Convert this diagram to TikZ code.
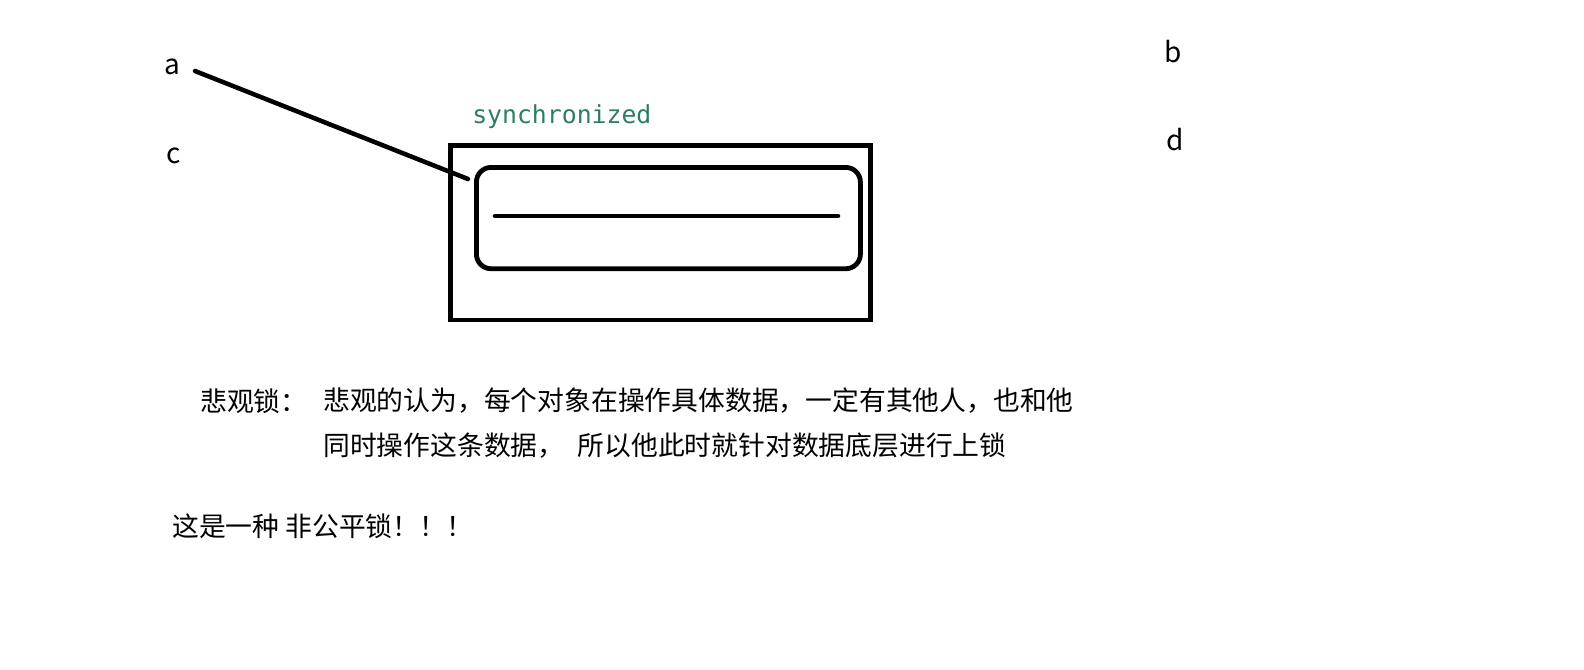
\documentclass[tikz,border=0pt]{standalone}
\usepackage{fontspec}
\setmainfont{Noto Sans CJK SC}
\newfontfamily\monof{DejaVu Sans Mono}
\definecolor{syncgreen}{RGB}{46,125,98}
\tikzset{
  lbl/.style={inner sep=0pt, font=\fontsize{21pt}{24pt}\selectfont},
  cjk/.style={inner sep=0pt, anchor=west, font=\fontsize{20.1pt}{24pt}\selectfont},
  thick line/.style={line width=3.4pt, line cap=round},
  box line/.style={line width=3.6pt},
}
\begin{document}
\begin{tikzpicture}[x=0.75pt,y=-0.75pt]
\useasboundingbox (0,0) rectangle (1584,669);
% letters
\node[lbl] (a) at (172,67) {a};
\node[lbl] (c) at (174,156) {c};
\node[lbl] (b) at (1173,52) {b};
\node[lbl] (d) at (1175,140) {d};
% boxes
\node[box line, draw, inner sep=0pt, anchor=north west,
      minimum width=315pt, minimum height=131pt] (outer) at (448,143) {};
\node[box line, draw, rounded corners=11pt, inner sep=0pt, anchor=north west,
      minimum width=288pt, minimum height=76pt] (inner) at (474,165) {};
\coordinate (l1) at (495,216);
\coordinate (l2) at (838,216);
\draw[thick line] (l1) -- (l2);
\coordinate (aend) at (195,71);
\coordinate (iend) at (468,179);
\draw[thick line] (aend) -- (iend);
\node[inner sep=0pt, anchor=west, text=syncgreen, font=\monof\fontsize{18.6pt}{20pt}\selectfont] (sync) at (472,117) {synchronized};
% text
\node[cjk] (t0) at (200,401) {悲观锁：};
\node[cjk] (t1) at (323,401) {悲观的认为，每个对象在操作具体数据，一定有其他人，也和他};
\node[cjk] (t2) at (323,446) {同时操作这条数据，\hspace{10pt}所以他此时就针对数据底层进行上锁};
\node[cjk] (t3) at (172,526) {这是一种 非公平锁！！！};
\end{tikzpicture}
\end{document}
